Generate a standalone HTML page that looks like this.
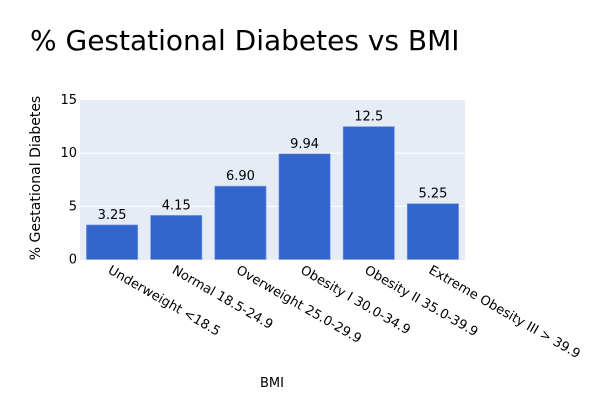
<!DOCTYPE html>
<html><head><meta charset="utf-8">
<style>
body{margin:0;background:#fff;}
svg{display:block;font-family:"DejaVu Sans","Liberation Sans",sans-serif;}
</style></head>
<body>
<svg id="chart" width="600" height="400">
<text x="30" y="50" font-size="28" fill="#000">% Gestational Diabetes vs BMI</text>
<rect x="80" y="100" width="385" height="160" fill="#e5ecf6"/>
<g id="grid"></g>
<g id="bars"></g>
<g id="labels"></g>
<text transform="translate(40,178) rotate(-90)" text-anchor="middle" font-size="14" fill="#000">% Gestational Diabetes</text>
<text x="272" y="387" text-anchor="middle" font-size="13" fill="#000">BMI</text>
</svg>
<script>
const categories=["Underweight <18.5","Normal 18.5-24.9","Overweight 25.0-29.9","Obesity I 30.0-34.9","Obesity II 35.0-39.9","Extreme Obesity III > 39.9"];
const values=[3.25,4.15,6.90,9.94,12.5,5.25];
const valueLabels=["3.25","4.15","6.90","9.94","12.5","5.25"];
const yTicks=[0,5,10,15];
const NS="http://www.w3.org/2000/svg";
const x0=80,x1=465,y0=259.5,y1=100,yMax=15;
const band=(x1-x0)/categories.length;
function xc(i){return x0+band*(i+0.5);}
function y(v){return y0-(v/yMax)*(y0-y1);}
function mk(tag,attrs,parent){const e=document.createElementNS(NS,tag);for(const k in attrs)e.setAttribute(k,attrs[k]);parent.appendChild(e);return e;}
const grid=document.getElementById('grid'),bars=document.getElementById('bars'),labels=document.getElementById('labels');
yTicks.forEach(t=>{
  if(t>0&&t<yMax){const l=mk('line',{x1:x0,x2:x1,y1:y(t),y2:y(t),stroke:'#fff','stroke-width':1},grid);
  
  }
  const tx=mk('text',{x:x0-3,y:y(t)+4,'text-anchor':'end','font-size':13,fill:'#000'},labels);
  tx.textContent=t;
  
  
});
categories.forEach((c,i)=>{
  const w=band*0.8;
  const r=mk('rect',{x:xc(i)-w/2,y:y(values[i]),width:w,height:y0-y(values[i]),fill:'#3366cc',stroke:'#7e9fe0','stroke-width':0.6},bars);
  
  
  const vt=mk('text',{x:xc(i),y:y(values[i])-6,'text-anchor':'middle','font-size':13,fill:'#000'},labels);
  vt.textContent=valueLabels[i];
  
  
  const ct=mk('text',{transform:'translate('+(xc(i)-5)+','+(y0+13)+') rotate(30)','font-size':13,fill:'#000'},labels);
  ct.textContent=c;
  
  
});
</script>
</body></html>
